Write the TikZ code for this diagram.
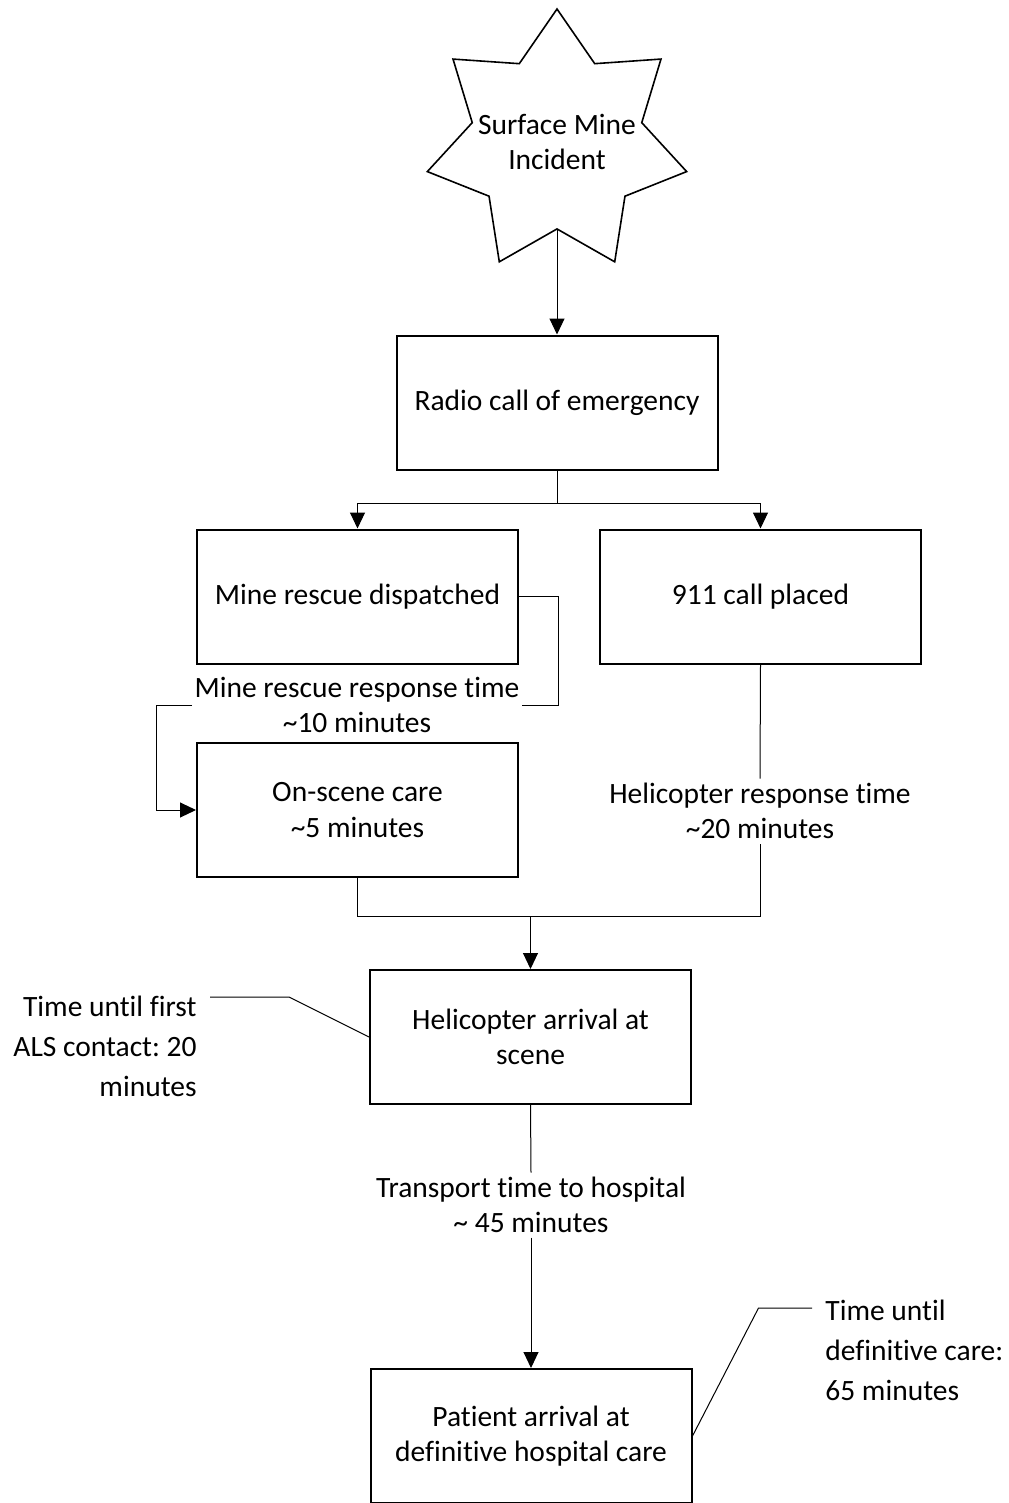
\documentclass[tikz,border=0pt]{standalone}
\usepackage{fontspec}
\setmainfont[Ligatures=NoCommon]{Carlito}
\usetikzlibrary{shapes.geometric}
\usetikzlibrary{arrows.meta}
\frenchspacing

\begin{document}
\begin{tikzpicture}[x=0.5pt,y=-0.5pt,
font=\fontsize{14.75pt}{17.75pt}\selectfont,
block/.style={rectangle,draw,line width=1pt,minimum width=160.5pt,minimum height=67pt,align=center,inner sep=0pt},
incident/.style={star,star points=7,star point ratio=1.53,draw,line width=0.8pt,minimum size=133pt,inner sep=0pt},
lbl/.style={align=center,inner xsep=1pt,inner ysep=2pt},
note/.style={font=\fontsize{14.75pt}{20pt}\selectfont,inner sep=0pt},
line/.style={draw,line width=0.5pt,-{Triangle[length=8pt,width=7.5pt]}},
link/.style={draw,line width=0.5pt}]

\useasboundingbox (0,0) rectangle (1008,1503);

\node [incident,label={[align=center]center:Surface Mine\\Incident}] (star) at (557,142) {};
\node [block] (radio) at (557,402.5) {Radio call of emergency};
\node [block] (mine) at (357.5,596.5) {Mine rescue dispatched};
\node [block] (call911) at (760.5,596.5) {911 call placed};
\node [block] (onscene) at (357.5,810) {On-scene care\\\textasciitilde5 minutes};
\node [block] (heli) at (530.5,1037) {Helicopter arrival at\\scene};
\node [block] (patient) at (531,1436) {Patient arrival at\\definitive hospital care};

\node [lbl] (mrlabel) at (357,705) {Mine rescue response time\\\textasciitilde10 minutes};
\node [lbl] (helabel) at (760,811) {Helicopter response time\\\textasciitilde20 minutes};
\node [lbl] (trlabel) at (531,1205) {Transport time to hospital\\\textasciitilde{} 45 minutes};

\node [note,anchor=east,align=right] (alsnote) at (197,1046) {Time until first\\ALS contact: 20\\minutes};
\node [note,anchor=west,align=left] (dcnote) at (825,1350) {Time until\\definitive care:\\65 minutes};

\coordinate (split) at (557,503);
\coordinate (join) at (530.5,916);
\coordinate (alsend) at (210,997);
\coordinate (dcend) at (812,1308);

\path [line] (star) -- (radio);
\path [link] (radio.south) -- (split);
\path [line] (split) -| (mine.north);
\path [line] (split) -| (call911.north);

\path [link] (mine.east) -- ++(39,0) |- (mrlabel.east);
\path [line] (mrlabel.west) -| ([xshift=-20pt]onscene.west) -- (onscene.west);

\path [link] (call911.south) -- (helabel.north);
\path [link] (onscene.south) |- (join) -| (helabel.south);
\path [line] (join) -- (heli.north);

\path [link] (heli.south) -- (trlabel.north);
\path [line] (trlabel.south) -- (patient.north);

\path [link] (heli.west) -- ++(-80,-40) -- (alsend);
\path [link] (patient.east) -- ++(66,-128) -- (dcend);
\end{tikzpicture}
\end{document}
